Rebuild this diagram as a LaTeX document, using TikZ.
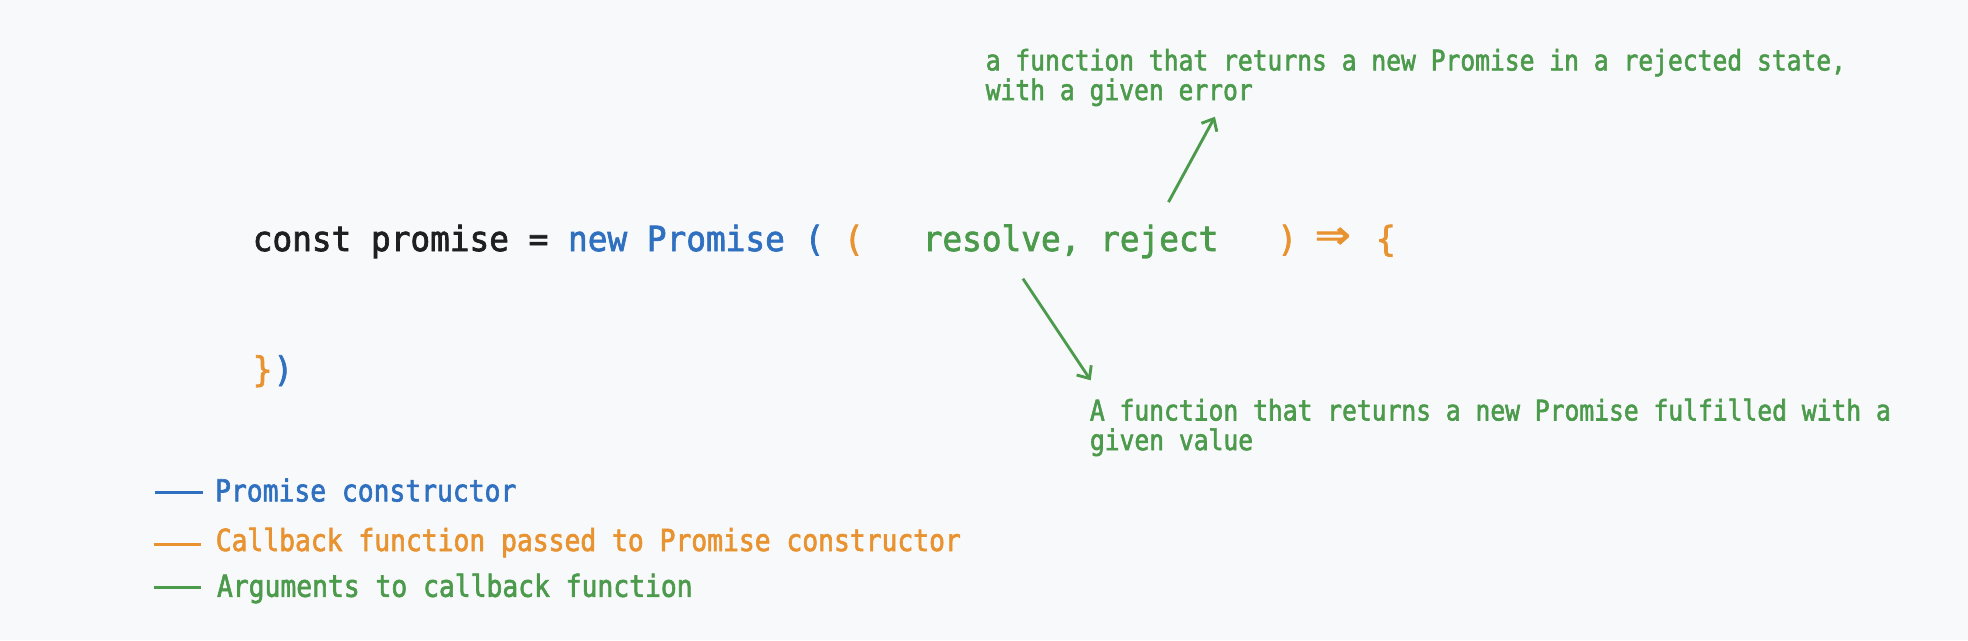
\documentclass[tikz,border=0pt]{standalone}
\usepackage{fontspec}
\usepackage{xcolor}
\definecolor{colorBack}{RGB}{248,249,250}
\definecolor{colorPlain}{RGB}{31,31,33}
\definecolor{colorCtor}{RGB}{48,112,192}
\definecolor{colorCallback}{RGB}{232,146,48}
\definecolor{colorArgs}{RGB}{76,154,76}
\newfontfamily\codefont[FakeStretch=0.945, FakeBold=2]{DejaVu Sans Mono}
\newfontfamily\notefont[FakeStretch=0.867, FakeBold=2]{DejaVu Sans Mono}
\usetikzlibrary{arrows.meta, positioning}
\tikzset{
  code/.style={inner sep=0pt, anchor=base west, font=\codefont\fontsize{13.8}{16}\selectfont},
  note/.style={inner sep=0pt, anchor=base west, align=left, text=colorArgs, font=\notefont\fontsize{11.32}{11.8}\selectfont},
  legend/.style={inner sep=0pt, anchor=base west, font=\notefont\fontsize{12.1}{14}\selectfont},
  pointer/.style={-{Straight Barb[length=4pt,width=7pt]}, colorArgs, line width=1.15pt},
  swatch/.style={line width=1.2pt}
}

\begin{document}
\begin{tikzpicture}[x=0.5pt, y=-0.5pt]
\fill[colorBack] (0,0) rectangle (1568,510);
\useasboundingbox (0,0) rectangle (1568,510);
% code
\node[code, text=colorPlain] (decl) at (201,200) {const promise =};
\node[code, text=colorCtor] (ctor) at (452.2,200) {new Promise (};
\node[code, text=colorCallback] (open) at (672,200) {(};
\node[code, text=colorArgs] (args) at (734.8,200) {resolve, reject};
\node[code, text=colorCallback] (close) at (1017.4,200) {)};
\node[code, text=colorCallback, anchor=base] (fat) at (1062,199) {\scalebox{1.75}[1.45]{⇒}};
\node[code, text=colorCallback] (brace) at (1095.9,200) {\{};
\node[code, text=colorCallback] (shut) at (201,304) {\}};
\node[code, text=colorCtor, base right=0pt of shut] (end) {)};
% notes (anchored at the last line)
\node[note] (rejectNote) at (785,79.7) {a function that returns a new Promise in a rejected state,\\with a given error};
\node[note] (resolveNote) at (868,358.6) {A function that returns a new Promise fulfilled with a\\given value};
\coordinate (rejectTail) at (931,161);
\coordinate (rejectHead) at (968,93);
\coordinate (resolveTail) at (815,222);
\coordinate (resolveHead) at (869,303);
\draw[pointer] (rejectTail) -- (rejectHead);
\draw[pointer] (resolveTail) -- (resolveHead);
% legend
\node[legend, text=colorCtor] (keyCtor) at (171,399.5) {Promise constructor};
\node[legend, text=colorCallback] (keyCallback) at (171.5,439) {Callback function passed to Promise constructor};
\node[legend, text=colorArgs] (keyArgs) at (172.5,475.5) {Arguments to callback function};
\draw[swatch, colorCtor] (123.5,392.6) -- (161.5,392.6);
\draw[swatch, colorCallback] (122.5,433.5) -- (160.5,433.5);
\draw[swatch, colorArgs] (122.5,468) -- (160.5,468);
\end{tikzpicture}
\end{document}
